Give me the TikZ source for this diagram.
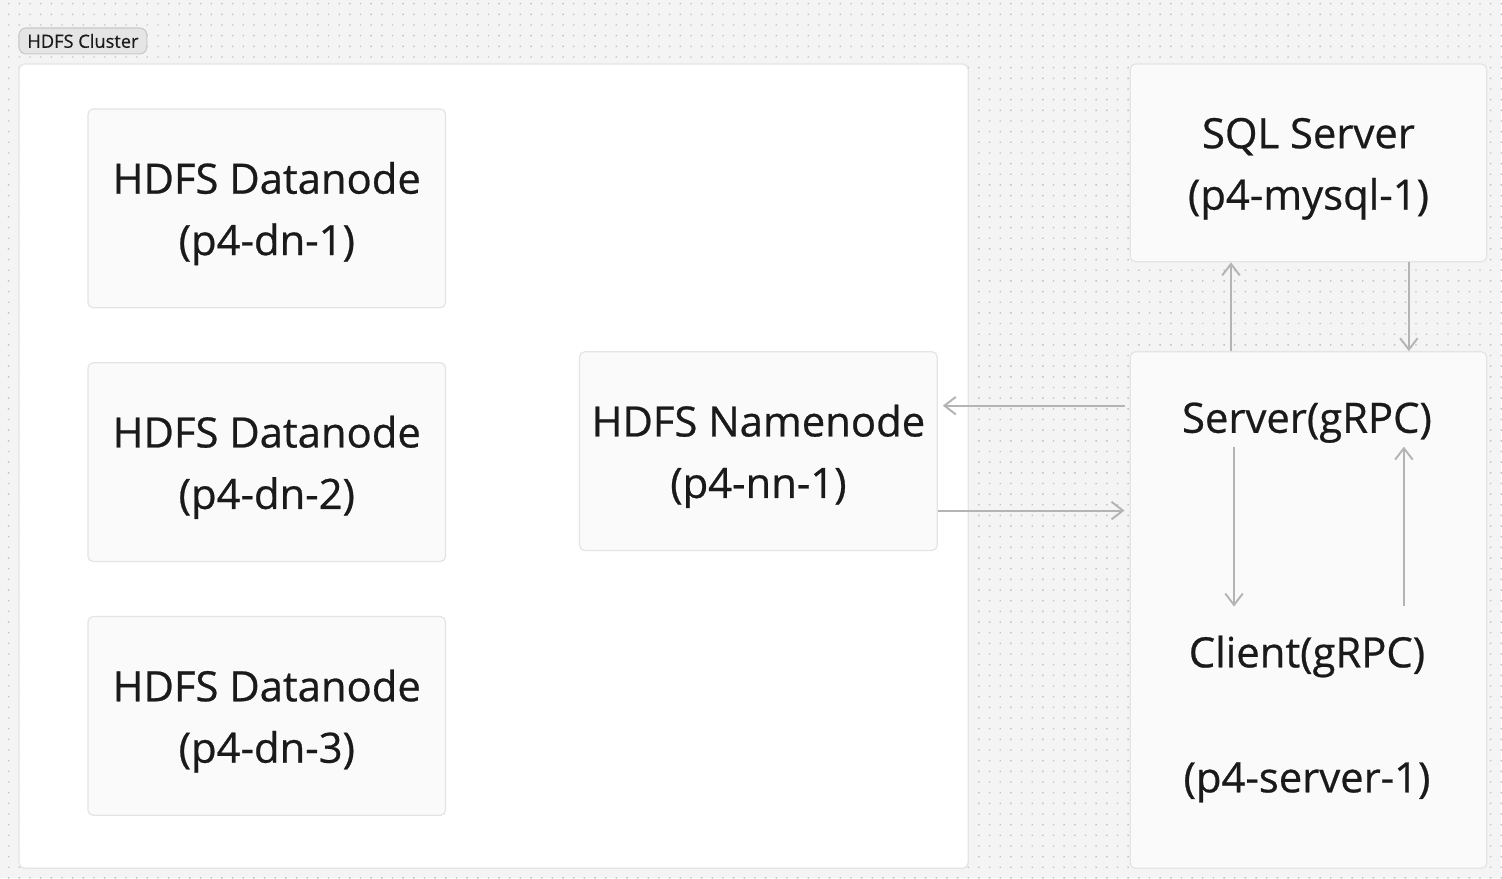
\documentclass[tikz,border=0pt]{standalone}
\usepackage{fontspec}
\setmainfont{Open Sans}[RawFeature={embolden=0.6}]
\usetikzlibrary{calc,arrows.meta}
\definecolor{bggray}{HTML}{F4F4F4}
\definecolor{dotgray}{HTML}{C2C2C2}
\definecolor{boxfill}{HTML}{FAFAFA}
\definecolor{boxline}{HTML}{E4E4E4}
\definecolor{flowgray}{HTML}{B4B4B4}
\definecolor{tagfill}{HTML}{E5E5E5}
\definecolor{tagline}{HTML}{C8C8C8}
\definecolor{inkgray}{HTML}{1A1A1A}
\newcommand{\topstrut}{\rule{0pt}{24pt}}
\tikzset{
  bigfont/.style={font=\fontsize{23.8}{35}\selectfont},
  box/.style={draw=boxline, fill=boxfill, line width=0.7pt, rounded corners=3pt,
    minimum width=7.16cm, minimum height=3.98cm, align=center, text=inkgray, bigfont},
  lbl/.style={text=inkgray, inner sep=0pt, bigfont},
  tag/.style={draw=tagline, fill=tagfill, line width=0.6pt, rounded corners=4pt,
    minimum width=2.56cm, minimum height=0.52cm, inner sep=0pt, text=inkgray,
    font=\fontsize{10.4}{12}\selectfont},
  flow/.style={draw=flowgray, line width=1.1pt, -{Straight Barb[length=6.5pt,width=10pt]}}
}
\begin{document}
\begin{tikzpicture}[x=0.02cm, y=-0.02cm]
  \fill[bggray] (0,0) rectangle (1502,879);
  \foreach \j in {0,...,82}
    \fill[dotgray] \foreach \i in {0,...,140} {(8+10.67*\i, 3+10.67*\j) rectangle ++(1.4,1.4)};
  \useasboundingbox (0,0) rectangle (1502,879);

  \node[tag] (tag) at (83,41) {HDFS Cluster};
  \node[draw=boxline, fill=white, line width=0.7pt, rounded corners=3pt,
    minimum width=19cm, minimum height=16.1cm] (cluster) at (494,466.5) {};

  \node[box] (dn1) at (267,208.5) {\topstrut HDFS Datanode\\(p4-dn-1)};
  \node[box] (dn2) at (267,462.5) {\topstrut HDFS Datanode\\(p4-dn-2)};
  \node[box] (dn3) at (267,716.5) {\topstrut HDFS Datanode\\(p4-dn-3)};
  \node[box] (nn) at (759,451.5) {\topstrut HDFS Namenode\\(p4-nn-1)};

  \node[box, minimum width=7.14cm, minimum height=3.96cm] (sql) at (1309.5,163) {\topstrut SQL Server\\(p4-mysql-1)};
  \node[box, minimum width=7.14cm, minimum height=10.34cm] (srv) at (1309.5,610.5) {};
  \node[lbl] (srvlbl) at (1308,423) {Server(gRPC)};
  \node[lbl] (clilbl) at (1308,657) {Client(gRPC)};
  \node[lbl] (hostlbl) at (1308,783) {(p4-server-1)};

  \draw[flow] ($(srv.west |- nn.east)+(-5,-45.5)$) -- ($(nn.east)+(5,-45.5)$);
  \draw[flow] ($(nn.east)+(0,59.5)$) -- ($(srv.west |- nn.east)+(-5,59.5)$);
  \draw[flow] ($(srv.north)+(-77.5,0)$) -- ($(sql.south)+(-77.5,0)$);
  \draw[flow] ($(sql.south)+(100.5,0)$) -- ($(srv.north)+(100.5,0)$);
  \draw[flow] ($(srvlbl)+(-73,24)$) -- ($(clilbl)+(-73,-50)$);
  \draw[flow] ($(clilbl)+(97,-51)$) -- ($(srvlbl)+(97,24)$);
\end{tikzpicture}
\end{document}
